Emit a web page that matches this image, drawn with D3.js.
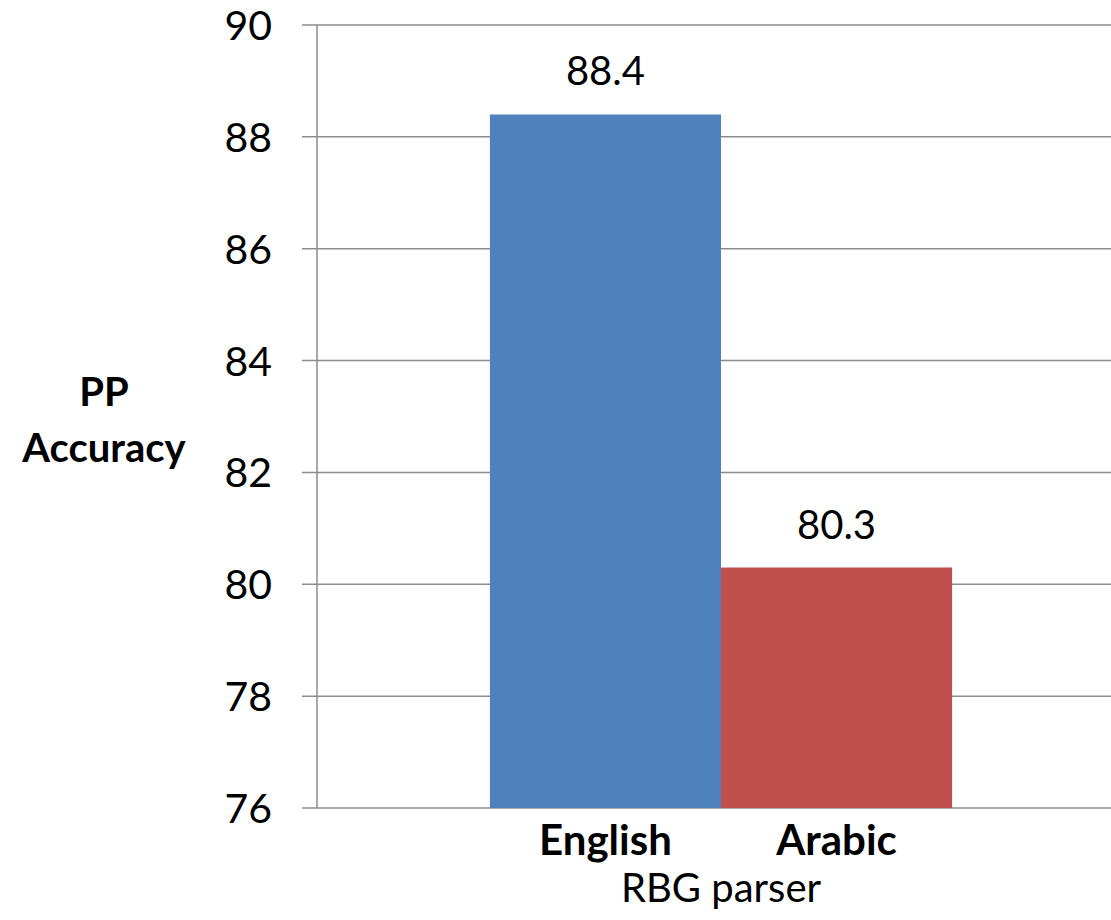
<!DOCTYPE html>
<html>
<head>
<meta charset="utf-8">
<script src="https://cdnjs.cloudflare.com/ajax/libs/d3/7.8.5/d3.min.js"></script>
<style>
  body { margin: 0; background: #fff; }
  svg text { font-family: Lato, "Noto Sans", sans-serif; fill: #000; }
</style>
</head>
<body>
<div id="chart"></div>
<script>
// data
var groups = ["RBG parser"];
var series = ["English", "Arabic"];
var values = [88.4, 80.3];
var colors = ["#4F81BD", "#C0504D"];
var yTicks = [76, 78, 80, 82, 84, 86, 88, 90];
var yTitle = ["PP", "Accuracy"];

var W = 1111, H = 920;
var plotL = 317, plotR = 1125, plotT = 25, plotB = 808;

var svg = d3.select("#chart").append("svg")
	.attr("width", W)
	.attr("height", H);

var y = d3.scaleLinear().domain([76, 90]).range([plotB, plotT]);

var x0 = d3.scaleBand().domain(groups).range([plotL, plotR])
	.paddingInner(0.428).paddingOuter(0.214);

var x1 = d3.scaleBand().domain(series).range([0, x0.bandwidth()]);

// gridlines
svg.append("g").selectAll("line").data(yTicks).enter().append("line")
	.attr("x1", plotL - 15)
	.attr("x2", W)
	.attr("y1", function(d){ return y(d); })
	.attr("y2", function(d){ return y(d); })
	.attr("stroke", "#8c8c8c")
	.attr("stroke-width", 1.5);

// y axis line
svg.append("line")
	.attr("x1", plotL).attr("x2", plotL)
	.attr("y1", plotT).attr("y2", plotB)
	.attr("stroke", "#8c8c8c")
	.attr("stroke-width", 1.5);

// y tick labels
svg.append("g").selectAll("text").data(yTicks).enter().append("text")
	.attr("x", 272)
	.attr("y", function(d){ return y(d) + 15; })
	.attr("text-anchor", "end")
	.attr("font-size", 41)
	.text(function(d){ return d; });

// bars
svg.append("g").selectAll("rect").data(values).enter().append("rect")
	.attr("x", function(d, i){ return x0(groups[0]) + x1(series[i]); })
	.attr("width", x1.bandwidth())
	.attr("y", function(d){ return y(d); })
	.attr("height", function(d){ return y(76) - y(d); })
	.attr("fill", function(d, i){ return colors[i]; });

// value labels
svg.append("g").selectAll("text").data(values).enter().append("text")
	.attr("x", function(d, i){ return x0(groups[0]) + x1(series[i]) + x1.bandwidth() / 2; })
	.attr("y", function(d){ return y(d) - 29; })
	.attr("text-anchor", "middle")
	.attr("font-size", 40)
	.text(function(d){ return d.toFixed(1); });

// series names under bars
svg.append("g").selectAll("text").data(series).enter().append("text")
	.attr("x", function(d){ return x0(groups[0]) + x1(d) + x1.bandwidth() / 2; })
	.attr("y", 855)
	.attr("text-anchor", "middle")
	.attr("font-size", 42)
	.attr("font-weight", "bold")
	.text(function(d){ return d; });

// group label
svg.append("text")
	.attr("x", x0(groups[0]) + x0.bandwidth() / 2)
	.attr("y", 902)
	.attr("text-anchor", "middle")
	.attr("font-size", 40)
	.text(groups[0]);

// y title
svg.append("g").selectAll("text").data(yTitle).enter().append("text")
	.attr("x", 104)
	.attr("y", function(d, i){ return 406 + i * 56; })
	.attr("text-anchor", "middle")
	.attr("font-size", 40)
	.attr("font-weight", "bold")
	.text(function(d){ return d; });
</script>
</body>
</html>
